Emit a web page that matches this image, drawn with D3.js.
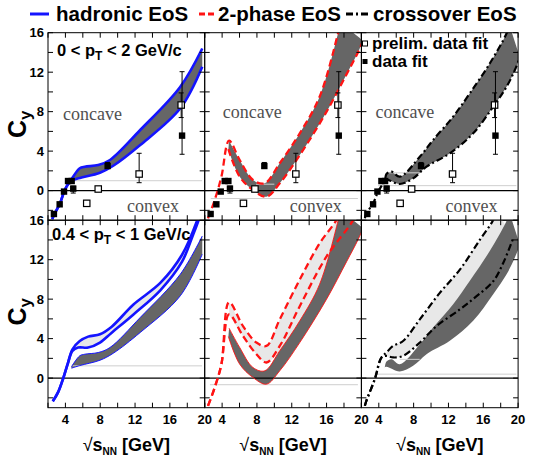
<!DOCTYPE html>
<html>
<head>
<meta charset="utf-8">
<script src="https://cdn.jsdelivr.net/npm/d3@7"></script>
<style>
  body { margin: 0; background: #fff; }
  text { font-family: "Liberation Sans", Arial, sans-serif; }
</style>
</head>
<body>
<div id="wrapper"></div>
<script>
// axis ticks
const xTicks = d3.range(2, 21, 2);
const xLabels = [4, 8, 12, 16, 20];
const yTicks = d3.range(-2, 17, 2);
const yLabels = [0, 4, 8, 12, 16];

const modelNames = ["hadronic EoS", "2-phase EoS", "crossover EoS"];
const ptRanges = [["0", "2"], ["0.4", "1"]];

// measured C_y (data fit = filled, prelim. data fit = open)
const fitS  = [2.68, 3.34, 3.84, 4.3, 4.72, 4.9, 8.85, 17.4];
const fitC  = [-2.37, -1.39, -0.1, 0.97, 0.97, 0.2, 2.49, 5.57];
const fitLo = [-2.37, -1.39, -0.1, 0.97, 0.97, -0.25, 2.3, 3.68];
const fitHi = [-2.37, -1.39, -0.1, 0.97, 0.97, 0.45, 2.85, 12.05];
const prelimS  = [6.45, 7.77, 12.47, 17.3];
const prelimC  = [-1.29, 0.16, 1.68, 8.67];
const prelimLo = [-1.6, 0.0, 0.8, 7.4];
const prelimHi = [-1.0, 0.3, 3.78, 9.9];

// hadronic EoS bands [sqrt(sNN), Cy]
const hadRiseTop = [[2.5,-2.9],[2.68,-2.45],[3.34,-1.39],[3.9,0],[4.3,0.65]];
const hadRiseBot = [[2.55,-2.35],[3.15,-1.45],[3.72,-0.1],[4.3,1.55]];
const hadDarkUp = [[4.69,1.14],[5.65,2.26],[6.23,2.42],[7.77,2.59],[9.12,3.1],[12.59,6.14],[17.2,10.53],[19.72,14.4]];
const hadDarkLo = [[4.69,1.0],[5.65,1.27],[7.97,1.81],[9.5,2.52],[12.59,4.62],[17.2,8.34],[19.72,12.55]];
const hadLightUp = [[4.81,2.92],[5.65,3.76],[6.61,4.2],[7.97,4.44],[9.32,5.21],[11.82,7.46],[14.9,9.64],[17.4,12.5],[19.14,16.0],[19.5,17]];
const hadLightLo = [[4.81,2.75],[5.46,3.09],[6.61,3.09],[7.97,3.6],[9.32,4.6],[11.82,6.45],[14.9,8.9],[17.4,11.8],[18.57,14.3],[19.3,16],[19.6,17]];

// 2-phase EoS bands
const twoRise = [[2.38,-2.81],[3.15,-0.95],[3.92,1.41]];
const twoDarkUp = [[4.8,5.06],[6.02,3.1],[7.55,1.07],[8.9,0.74],[10.62,2.77],[12.92,5.8],[15.2,9.51],[17.32,15.94],[17.6,17]];
const twoDarkLo = [[4.72,4.2],[6.02,1.41],[7.55,0.06],[9.09,-0.62],[10.62,0.74],[12.92,3.6],[16.0,8.0],[18.3,11.8],[19.6,14.0],[20.2,15.2]];
const twoLightUp = [[4.8,7.69],[6.4,5.27],[7.94,3.6],[9.09,3.26],[10.62,5.95],[12.92,9.98],[15.22,13.68],[17.13,16.03],[17.5,17]];
const twoLightLo = [[4.8,6.45],[6.4,4.27],[7.94,2.42],[9.09,1.58],[10.62,3.26],[12.92,7.29],[16.0,12.33],[19.05,16.03],[19.4,17]];

// crossover EoS bands
const crossRiseTop = [[2.4,-2.8],[2.58,-2.3],[3.35,-1.29],[3.92,-0.11]];
const crossRiseBot = [[2.4,-2.8],[2.58,-2.29],[3.54,-0.1],[4.31,2.09]];
const crossDarkUp = [[4.69,1.07],[4.88,1.68],[5.46,1.92],[6.41,1.41],[8.71,3.43],[10.24,5.13],[12.54,7.49],[14.46,9.86],[16.76,12.9],[18.68,15.94],[19.0,16.8]];
const crossDarkLo = [[4.69,1.07],[4.88,1.14],[6.41,0.67],[7.94,1.24],[9.48,2.42],[12.16,3.78],[14.84,5.8],[17.14,8.5],[18.68,10.53],[19.63,12.22],[20.2,13.5]];
const crossLightUp = [[4.88,2.59],[5.64,3.26],[6.79,3.76],[8.71,5.95],[11.01,8.64],[13.31,10.99],[15.6,14.01],[17.14,16.03],[17.5,17]];
const crossLightLo = [[4.88,2.25],[5.64,2.09],[6.79,2.25],[8.71,3.6],[10.63,5.27],[13.31,6.96],[15.23,8.3],[17.14,9.81],[18.29,11.66],[19.44,14.18]];

// faint gray lines left in the original figure [col, row, Cy, from, to]
const guideLines = [
  [0,0,1.0,4.7,19.7],[0,1,1.24,4.8,19.7],
  [1,0,-0.8,2.7,19.6],[1,0,0.65,7.9,10.0],[1,1,-0.67,2.6,19.6],
  [2,0,0.5,3.9,19.8],[2,0,1.8,5.0,8.7],[2,1,0.4,3.5,19.8],[2,1,1.9,6.4,8.7]
];

const W = 538, H = 456;
const marginLeft = 48, marginTop = 32.7, pw = 156.7, ph = 187.5;
const dark = "#666666", light = "#e8e8e8";

const svg = d3.select("#wrapper").append("svg")
  .attr("width", W)
  .attr("height", H);

const x = d3.scaleLinear().domain([2, 20]).range([0, pw]);
const y = d3.scaleLinear().domain([-3, 16]).range([ph, 0]);

const curve = d3.line()
  .x(d => x(d[0]))
  .y(d => y(d[1]))
  .curve(d3.curveCatmullRom.alpha(0.5));

function bandPath(up, lo) {
  return curve(up) + "L" + curve(lo.slice().reverse()).slice(1) + "Z";
}

const styles = {
  had:     {stroke: "#1414ff", width: 2.6, dash: null},
  hadThin: {stroke: "#1414ff", width: 1, dash: null},
  two:     {stroke: "#ff1414", width: 2.3, dash: "7,4"},
  twoThin: {stroke: "#ff1414", width: 0.9, dash: null},
  cross:   {stroke: "#000", width: 2.2, dash: "7,3,2,3"}
};

// light band of 2-phase: lower fill edge continues along the dark band
const twoLightFillLo = twoLightLo.filter(d => d[0] < 10).concat(twoDarkUp.filter(d => d[0] > 10));

const panels = [
  {col: 0, row: 0,
   fills: [[hadDarkUp, hadDarkLo, dark]],
   lines: [[hadRiseTop.concat(hadDarkUp), "had"], [hadRiseTop.concat(hadDarkLo), "had"]]},
  {col: 1, row: 0,
   fills: [[twoDarkUp, twoDarkLo, dark]],
   lines: [[twoRise.concat(twoDarkUp), "two"], [twoDarkLo, "two"]]},
  {col: 2, row: 0,
   fills: [[crossDarkUp, crossDarkLo, dark]],
   lines: [[crossRiseTop.concat(crossDarkUp), "cross"], [crossDarkLo, "cross"]]},
  {col: 0, row: 1,
   fills: [[hadLightUp, hadLightLo, light], [hadDarkUp, hadDarkLo, dark]],
   lines: [[hadDarkUp, "hadThin"], [hadDarkLo, "hadThin"],
           [hadRiseBot.concat(hadLightUp), "had"], [hadRiseBot.concat(hadLightLo), "had"]]},
  {col: 1, row: 1,
   fills: [[twoLightUp, twoLightFillLo, light], [twoDarkUp, twoDarkLo, dark]],
   lines: [[twoDarkUp, "twoThin"], [twoDarkLo, "twoThin"],
           [twoRise.concat(twoLightUp), "two"], [twoRise.concat(twoLightLo), "two"]]},
  {col: 2, row: 1,
   fills: [[crossLightUp, crossLightLo, light], [crossDarkUp, crossDarkLo, dark]],
   lines: [[crossRiseBot.concat(crossLightUp), "cross"], [crossRiseBot.concat(crossLightLo), "cross"]]}
];

function drawPoints(g, S, C, lo, hi, filled) {
  S.forEach((s, i) => {
    if (hi[i] > lo[i]) {
      g.append("line")
        .attr("x1", x(s)).attr("x2", x(s))
        .attr("y1", y(lo[i])).attr("y2", y(hi[i]))
        .attr("stroke", "#000").attr("stroke-width", 1);
      [lo[i], hi[i]].forEach(v => g.append("line")
        .attr("x1", x(s) - 2.5).attr("x2", x(s) + 2.5)
        .attr("y1", y(v)).attr("y2", y(v))
        .attr("stroke", "#000").attr("stroke-width", 1));
    }
  });
  S.forEach((s, i) => {
    g.append("rect")
      .attr("x", x(s) - 3.2).attr("y", y(C[i]) - 3.2)
      .attr("width", 6.4).attr("height", 6.4)
      .attr("fill", filled ? "#000" : "#fff")
      .attr("stroke", "#000")
      .attr("stroke-width", filled ? 0 : 1.2);
  });
}

const concaveX = [15, 18, 14], convexX = [79, 85, 84];

panels.forEach((p, i) => {
  const g = svg.append("g")
    .attr("transform", `translate(${marginLeft + p.col * pw},${marginTop + p.row * ph})`);
  g.append("clipPath").attr("id", "clip" + i)
    .append("rect").attr("width", pw).attr("height", ph);
  const inner = g.append("g").attr("clip-path", `url(#clip${i})`);

  p.fills.forEach(f => inner.append("path")
    .attr("d", bandPath(f[0], f[1]))
    .attr("fill", f[2]));

  guideLines.filter(d => d[0] === p.col && d[1] === p.row).forEach(d => inner.append("line")
    .attr("x1", x(d[3])).attr("x2", x(d[4]))
    .attr("y1", y(d[2])).attr("y2", y(d[2]))
    .attr("stroke", "#cfcfcf").attr("stroke-width", 1));

  inner.append("line")
    .attr("x1", 0).attr("x2", pw)
    .attr("y1", y(0)).attr("y2", y(0))
    .attr("stroke", "#000").attr("stroke-width", 1.2);

  p.lines.forEach(l => {
    const s = styles[l[1]];
    inner.append("path")
      .attr("d", curve(l[0]))
      .attr("fill", "none")
      .attr("stroke", s.stroke)
      .attr("stroke-width", s.width)
      .attr("stroke-dasharray", s.dash);
  });

  if (p.row === 0) {
    drawPoints(inner, prelimS, prelimC, prelimLo, prelimHi, false);
    drawPoints(inner, fitS, fitC, fitLo, fitHi, true);
    g.append("text").attr("x", concaveX[p.col]).attr("y", p.col === 0 ? 87.3 : 85.5)
      .text("concave").style("font-family", "'Liberation Serif', serif")
      .style("font-size", "18px").attr("fill", "#505050");
    g.append("text").attr("x", convexX[p.col]).attr("y", 179.5)
      .text("convex").style("font-family", "'Liberation Serif', serif")
      .style("font-size", "18px").attr("fill", "#505050");
  }

  // frame and inward ticks
  g.append("rect").attr("width", pw).attr("height", ph)
    .attr("fill", "none").attr("stroke", "#000").attr("stroke-width", 1);
  xTicks.forEach(t => {
    g.append("line").attr("x1", x(t)).attr("x2", x(t)).attr("y1", ph).attr("y2", ph - 5).attr("stroke", "#000");
    g.append("line").attr("x1", x(t)).attr("x2", x(t)).attr("y1", 0).attr("y2", 5).attr("stroke", "#000");
  });
  yTicks.forEach(t => {
    g.append("line").attr("x1", 0).attr("x2", 5).attr("y1", y(t)).attr("y2", y(t)).attr("stroke", "#000");
    g.append("line").attr("x1", pw).attr("x2", pw - 5).attr("y1", y(t)).attr("y2", y(t)).attr("stroke", "#000");
  });

  if (p.col === 0) {
    yLabels.forEach(t => g.append("text")
      .attr("x", -4).attr("y", y(t)).attr("dy", "0.36em")
      .attr("text-anchor", "end")
      .style("font-size", "13px").style("font-weight", "bold")
      .text(t));
  }
  if (p.row === 1) {
    xLabels.forEach(t => g.append("text")
      .attr("x", x(t)).attr("y", ph + 16)
      .attr("text-anchor", "middle")
      .style("font-size", "13px").style("font-weight", "bold")
      .text(t));
    const xt = svg.append("text")
      .attr("x", marginLeft + p.col * pw + pw / 2).attr("y", 451)
      .attr("text-anchor", "middle")
      .style("font-size", "18px").style("font-weight", "bold");
    xt.append("tspan").text("\u221A").style("font-weight", "normal");
    xt.append("tspan").text("s");
    xt.append("tspan").text("NN").attr("dy", 4).style("font-size", "10px");
    xt.append("tspan").text(" [GeV]").attr("dy", -4);
  }
});

// Cy axis titles and pT ranges
[0, 1].forEach(r => {
  const t = svg.append("text")
    .attr("transform", `translate(26,${marginTop + r * ph + 91.5}) rotate(-90)`)
    .attr("text-anchor", "middle")
    .style("font-weight", "bold");
  t.append("tspan").text("C").style("font-size", "25px");
  t.append("tspan").text("y").attr("dy", 5).style("font-size", "17px");

  const lbl = svg.append("text")
    .attr("x", r === 0 ? 57 : 52).attr("y", r === 0 ? 56 : 240)
    .style("font-size", "16.5px").style("font-weight", "bold");
  lbl.append("tspan").text(ptRanges[r][0] + " < p");
  lbl.append("tspan").text("T").attr("dy", 4).style("font-size", "12px");
  lbl.append("tspan").text(" < " + ptRanges[r][1] + " GeV/c").attr("dy", -4);
});

// top legend
const legendX = [[30, 49, 56], [199, 217, 218], [346, 369, 373]];
const legendStyle = [styles.had, styles.two, styles.cross];
modelNames.forEach((name, i) => {
  svg.append("line")
    .attr("x1", legendX[i][0]).attr("x2", legendX[i][1])
    .attr("y1", 14).attr("y2", 14)
    .attr("stroke", legendStyle[i].stroke)
    .attr("stroke-width", 3)
    .attr("stroke-dasharray", i === 1 ? "6,3" : legendStyle[i].dash);
  svg.append("text")
    .attr("x", legendX[i][2]).attr("y", 21)
    .style("font-size", "20.5px").style("font-weight", "bold")
    .text(name);
});

// marker legend in top-right panel
[["prelim. data fit", false, 43.5], ["data fit", true, 61.5]].forEach(d => {
  svg.append("rect")
    .attr("x", 362.5).attr("y", d[2] - 2.5)
    .attr("width", 5).attr("height", 5)
    .attr("fill", d[1] ? "#000" : "#fff")
    .attr("stroke", "#000").attr("stroke-width", d[1] ? 0 : 1);
  svg.append("text")
    .attr("x", 372).attr("y", d[2] + 5.5)
    .style("font-size", "17px").style("font-weight", "bold")
    .text(d[0]);
});
</script>
</body>
</html>
